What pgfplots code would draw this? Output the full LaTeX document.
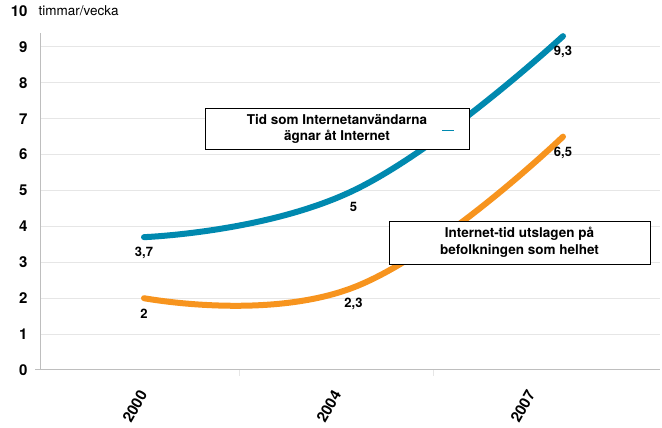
\documentclass[border=0pt]{standalone}
\usepackage{fontspec}
\setmainfont{TeX Gyre Heros}
\usepackage{pgfplots}
\pgfplotsset{compat=1.18}
\definecolor{tealblue}{RGB}{0,137,175}
\definecolor{orng}{RGB}{247,148,30}
\definecolor{gridgray}{RGB}{230,230,230}
\definecolor{axgray}{RGB}{190,190,190}
\begin{document}
\begin{tikzpicture}[x=1pt,y=1pt]
\useasboundingbox (-41,-58) rectangle (621,370);
\begin{axis}[
  at={(0,0)}, anchor=south west,
  scale only axis, width=619pt, height=359pt,
  xmin=-0.4917, xmax=2.463, ymin=0, ymax=10,
  axis x line=bottom, axis y line=left,
  axis line style={draw=none},
  clip=false,
  /pgf/number format/assume math mode=true,
  ytick={0,...,9},
  yticklabel style={font=\bfseries\fontsize{15}{15}\selectfont, anchor=east, xshift=-10pt},
  major tick length=0pt,
  ymajorgrids, grid style={gridgray, line width=1pt},
  extra y ticks={10}, extra y tick style={grid=none},
  xtick={-0.005,0.921,1.847},
  xticklabels={2000,2004,2007},
  xticklabel style={font=\bfseries\fontsize{15}{15}\selectfont, xshift=2pt, yshift=-19pt, rotate=60, anchor=east},
  nodes near coords, point meta=explicit symbolic,
  every node near coord/.style={font=\bfseries\fontsize{13}{13}\selectfont, anchor=center, yshift=-16pt, text=black},
]
% axes
\draw[axgray, line width=1pt] (axis cs:-0.52,0) -- (axis cs:2.463,0);
\draw[axgray, line width=1pt] (axis cs:-0.4917,0) -- (axis cs:-0.4917,9.4);
\draw[gridgray, line width=1pt] (axis cs:0.458,0) -- (axis cs:0.458,-0.17);
\draw[gridgray, line width=1pt] (axis cs:1.384,0) -- (axis cs:1.384,-0.17);
\addplot[orng, line width=6pt, line cap=round, smooth, tension=0.75] table[meta=lab] {
x y lab
0 2 2
1 2.3 {2,3}
2 6.5 {6,5}
};
\addplot[tealblue, line width=6pt, line cap=round, smooth, tension=0.75] table[meta=lab] {
x y lab
0 3.7 {3,7}
1 5 5
2 9.3 {9,3}
};
\node[anchor=west, font=\fontsize{13.5}{13.5}\selectfont] at (axis cs:-0.52,10) {timmar/vecka};
\end{axis}
\node[draw=black, line width=0.8pt, fill=white, minimum width=264pt, minimum height=41pt, align=center, inner sep=0pt,
  font=\bfseries\fontsize{13.5}{16}\selectfont] at (296,241.5) {Tid som Internetanvändarna\\ägnar åt Internet};
\draw[tealblue, line width=0.8pt] (401,240) -- (413,240);
\node[draw=black, line width=0.8pt, fill=white, minimum width=261pt, minimum height=43pt, align=center, inner sep=0pt,
  font=\bfseries\fontsize{13.5}{17}\selectfont] at (478.5,127.5) {Internet-tid utslagen på\\befolkningen som helhet};
\end{tikzpicture}
\end{document}
